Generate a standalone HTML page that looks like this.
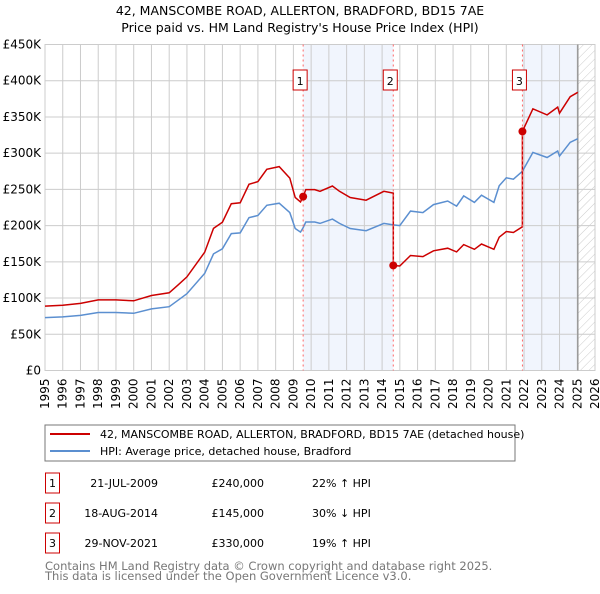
<!DOCTYPE html>
<html><head><meta charset="utf-8"><style>
body{margin:0;background:#fff;font-family:"DejaVu Sans","Liberation Sans",sans-serif;}
svg text{font-family:"DejaVu Sans","Liberation Sans",sans-serif;}
</style></head><body>
<svg id="c" width="600" height="590" xmlns="http://www.w3.org/2000/svg">
<defs><pattern id="hatch" width="6" height="6" patternUnits="userSpaceOnUse" patternTransform="rotate(45)"><line x1="0" y1="0" x2="0" y2="6" stroke="#ccc" stroke-width="1"/></pattern></defs>
<text x="300" y="15" text-anchor="middle" font-size="12.5" fill="#000">42, MANSCOMBE ROAD, ALLERTON, BRADFORD, BD15 7AE</text>
<text x="300" y="32" text-anchor="middle" font-size="12.5" fill="#000">Price paid vs. HM Land Registry's House Price Index (HPI)</text>
<g id="plot"></g>
<g>
<rect x="45" y="425" width="470" height="36" fill="#fff" stroke="#777" stroke-width="1"/>
<line x1="50" y1="434" x2="90" y2="434" stroke="#cc0000" stroke-width="2"/>
<text x="100" y="438" font-size="11">42, MANSCOMBE ROAD, ALLERTON, BRADFORD, BD15 7AE (detached house)</text>
<line x1="50" y1="451" x2="90" y2="451" stroke="#5b8fd0" stroke-width="2"/>
<text x="100" y="455" font-size="11">HPI: Average price, detached house, Bradford</text>
</g>
<g id="table"></g>
<text x="45" y="570" font-size="11.5" fill="#777">Contains HM Land Registry data © Crown copyright and database right 2025.</text>
<text x="45" y="580" font-size="11.5" fill="#777">This data is licensed under the Open Government Licence v3.0.</text>
</svg>
<script>
const hpiYears=[1995,1996,1997,1998,1999,2000,2001,2002,2002.5,2003,2004,2004.5,2005,2005.5,2006,2006.5,2007,2007.5,2008.2,2008.8,2009.1,2009.4,2009.55,2009.7,2010.2,2010.5,2011.2,2011.6,2012.2,2013.1,2014.1,2014.63,2015,2015.6,2016.3,2016.9,2017.7,2018.2,2018.6,2019.2,2019.6,2020.3,2020.6,2021.0,2021.4,2021.91,2022.5,2023.3,2023.9,2024.0,2024.6,2025.03];
const hpiValues=[73,74,76,80,80,79,85,88,97,106,134,161,168,189,190,211,214,228,231,218,196,191,197,205,205,203,209,203,196,193,203,201,200,220,218,229,234,227,241,232,242,232,255,266,264,275,301,294,303,296,315,320];
const saleYears=[2009.55,2014.63,2021.91];
const salePrices=[240000,145000,330000];
const saleLabels=["1","2","3"];
const saleDates=["21-JUL-2009","18-AUG-2014","29-NOV-2021"];
const saleDiffs=["22% \u2191 HPI","30% \u2193 HPI","19% \u2191 HPI"];
const yTicks=[0,50000,100000,150000,200000,250000,300000,350000,400000,450000];
const yTickLabels=["£0","£50K","£100K","£150K","£200K","£250K","£300K","£350K","£400K","£450K"];
const xTicks=[1995,1996,1997,1998,1999,2000,2001,2002,2003,2004,2005,2006,2007,2008,2009,2010,2011,2012,2013,2014,2015,2016,2017,2018,2019,2020,2021,2022,2023,2024,2025,2026];
const dataEnd=2025.03;

const NS="http://www.w3.org/2000/svg";
const X0=45,X1=595,Y0=370.5,Y1=44.5;
const xs=y=>X0+(y-1995)/(2026-1995)*(X1-X0);
const ys=v=>Y0-v/450000*(Y0-Y1);
const plot=document.getElementById('plot');
function mk(tag,attrs,parent){const e=document.createElementNS(NS,tag);for(const k in attrs)e.setAttribute(k,attrs[k]);(parent||plot).appendChild(e);return e;}
// shading
let sh=mk('rect',{x:xs(saleYears[0]),y:Y1,width:xs(saleYears[1])-xs(saleYears[0]),height:Y0-Y1,fill:'#eef3fc',opacity:0.8});


sh=mk('rect',{x:xs(saleYears[2]),y:Y1,width:xs(dataEnd)-xs(saleYears[2]),height:Y0-Y1,fill:'#eef3fc',opacity:0.8});


let ht=mk('rect',{x:xs(dataEnd),y:Y1,width:X1-xs(dataEnd),height:Y0-Y1,fill:'url(#hatch)'});


// grid
yTicks.forEach((t,i)=>{
 const l=mk('line',{x1:X0,x2:X1,y1:ys(t),y2:ys(t),stroke:'#ccc','stroke-width':1});
 
 
 const tx=mk('text',{x:X0-4,y:ys(t)+4,'text-anchor':'end','font-size':12});
 tx.textContent=yTickLabels[i];
 
 
});
xTicks.forEach(t=>{
 const l=mk('line',{x1:xs(t),x2:xs(t),y1:Y1,y2:Y0,stroke:'#ccc','stroke-width':1});
 
 
 const tx=mk('text',{x:0,y:0,'text-anchor':'end','font-size':12,transform:`translate(${xs(t)+4},${Y0+8}) rotate(-90)`});
 tx.textContent=t;
 
 
});
const fr=mk('rect',{x:X0,y:Y1,width:X1-X0,height:Y0-Y1,fill:'none',stroke:'#ccc'});


const de=mk('line',{x1:xs(dataEnd),x2:xs(dataEnd),y1:Y1,y2:Y0,stroke:'#999','stroke-width':1.5});


// interpolate hpi
function hpiAt(y){for(let i=1;i<hpiYears.length;i++){if(y<=hpiYears[i]){const a=hpiYears[i-1],b=hpiYears[i];return hpiValues[i-1]+(hpiValues[i]-hpiValues[i-1])*(y-a)/(b-a);}}return hpiValues[hpiValues.length-1];}
// red series: HPI scaled by sale price ratios
const factors=salePrices.map((p,i)=>p/1000/hpiAt(saleYears[i]));
let redPts=[];
hpiYears.forEach((y,i)=>{
 let f=factors[0];
 if(y>=saleYears[2])f=factors[2];else if(y>=saleYears[1])f=factors[1];
 redPts.push([y,hpiValues[i]*f]);
});
saleYears.forEach((sy,i)=>{
 if(i>0)redPts.push([sy-0.001,hpiAt(sy)*factors[i-1]]);
 redPts.push([sy,hpiAt(sy)*factors[i]]);
});
redPts.sort((a,b)=>a[0]-b[0]);
const hp=mk('path',{d:hpiYears.map((y,i)=>(i?'L':'M')+xs(y).toFixed(1)+','+ys(hpiValues[i]*1000).toFixed(1)).join(''),fill:'none',stroke:'#5b8fd0','stroke-width':1.5});


const rp=mk('path',{d:redPts.map((p,i)=>(i?'L':'M')+xs(p[0]).toFixed(1)+','+ys(p[1]*1000).toFixed(1)).join(''),fill:'none',stroke:'#cc0000','stroke-width':1.5});


saleYears.forEach((sy,i)=>{
 const vl=mk('line',{x1:xs(sy),x2:xs(sy),y1:Y1,y2:Y0,stroke:'#ff6666','stroke-width':1,'stroke-dasharray':'2,3'});
 
 
 const pt=mk('circle',{cx:xs(sy),cy:ys(salePrices[i]),r:4,fill:'#cc0000'});
 
 
 const bx=mk('rect',{x:xs(sy)-10,y:70,width:14,height:20,fill:'#fff',stroke:'#cc0000'});
 
 
 const bt=mk('text',{x:xs(sy)-3,y:85,'text-anchor':'middle','font-size':11});
 bt.textContent=saleLabels[i];
 
 
});
// table
const tb=document.getElementById('table');
saleYears.forEach((sy,i)=>{
 const cy=483+i*30;
 const r=mk('rect',{x:45.5,y:cy-10,width:14,height:20,fill:'#fff',stroke:'#cc0000'},tb);
 
 
 const t1=mk('text',{x:52.5,y:cy+4,'text-anchor':'middle','font-size':11},tb);t1.textContent=saleLabels[i];
 
 
 const t2=mk('text',{x:158,y:cy+4,'text-anchor':'end','font-size':11},tb);t2.textContent=saleDates[i];
 
 
 const t3=mk('text',{x:264,y:cy+4,'text-anchor':'end','font-size':11},tb);t3.textContent='£'+salePrices[i].toLocaleString('en-GB');
 
 
 const t4=mk('text',{x:312,y:cy+4,'font-size':11},tb);t4.textContent=saleDiffs[i];
 
 
});
</script>
</body></html>
